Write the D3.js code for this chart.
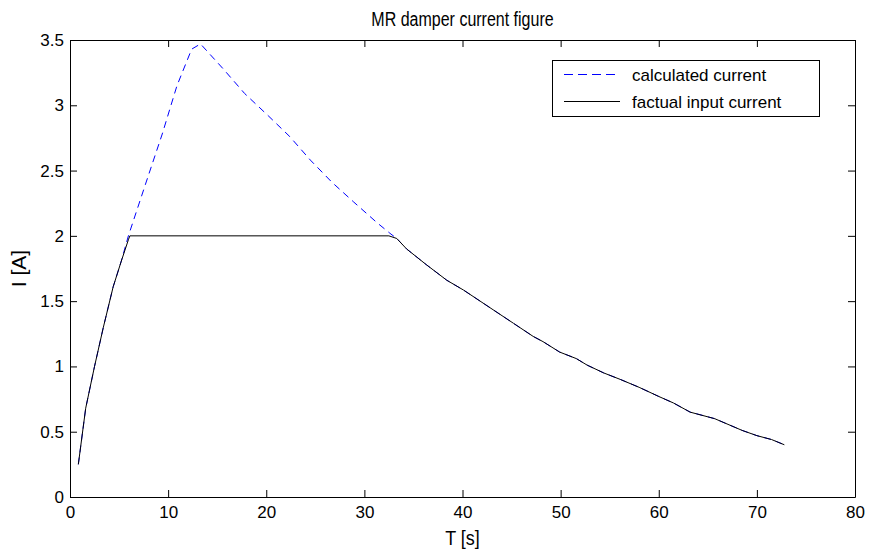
<!DOCTYPE html>
<html><head><meta charset="utf-8">
<script src="https://cdn.jsdelivr.net/npm/d3@7"></script>
<style>body{margin:0;background:#fff;}svg{display:block;font-family:"Liberation Sans",Arial,sans-serif;}</style>
</head><body>
<script>
const calcT = [0.85,1.6,2.5,3.4,4.4,5.2,5.95,7.8,9.4,10.9,12.4,13.3,15.6,17.8,20.2,22.4,24.5,26.7,28.9,31.3,32.6,33.3,34.3,36.3,38.4,40.1,43.2,45.2,47.2,48.2,49.9,51.6,52.7,54.4,56.1,58,60,61.5,63.2,65.7,68.5,70,71.5,72.8];
const calcI = [0.25,0.68,1.0,1.3,1.61,1.8,2.0,2.42,2.78,3.15,3.43,3.47,3.28,3.09,2.92,2.76,2.58,2.41,2.26,2.10,2.02,1.98,1.90,1.78,1.66,1.585,1.43,1.33,1.23,1.19,1.11,1.06,1.01,0.95,0.90,0.84,0.77,0.72,0.65,0.60,0.51,0.47,0.44,0.40];
const factT = [0.85,1.6,2.5,3.4,4.4,5.2,5.95,6.1,32.5,33.3,34.3,36.3,38.4,40.1,43.2,45.2,47.2,48.2,49.9,51.6,52.7,54.4,56.1,58,60,61.5,63.2,65.7,68.5,70,71.5,72.8];
const factI = [0.25,0.68,1.0,1.3,1.61,1.8,1.97,2.0,2.0,1.98,1.90,1.78,1.66,1.585,1.43,1.33,1.23,1.19,1.11,1.06,1.01,0.95,0.90,0.84,0.77,0.72,0.65,0.60,0.51,0.47,0.44,0.40];
const xTicks = [0,10,20,30,40,50,60,70,80];
const yTicks = [0,0.5,1,1.5,2,2.5,3,3.5];
const legendLabels = ["calculated current","factual input current"];

const W=869,H=553, L=70,R=855,T=40,B=497;
const svg=d3.select("body").append("svg").attr("width",W).attr("height",H);
const x=d3.scaleLinear().domain([0,80]).range([L,R]);
const y=d3.scaleLinear().domain([0,3.5]).range([B,T]);

const tl=7;
const gx=svg.append("g").attr("transform",`translate(0,${B})`)
  .call(d3.axisBottom(x).tickValues(xTicks).tickSizeInner(-tl).tickSizeOuter(0).tickPadding(9).tickFormat(d3.format("d")));
const gxt=svg.append("g").attr("transform",`translate(0,${T})`)
  .call(d3.axisTop(x).tickValues(xTicks).tickSizeInner(-tl).tickSizeOuter(0).tickFormat(""));
const gy=svg.append("g").attr("transform",`translate(${L},0)`)
  .call(d3.axisLeft(y).tickValues(yTicks).tickSizeInner(-tl).tickSizeOuter(0).tickPadding(6).tickFormat(d=>String(d)));
const gyr=svg.append("g").attr("transform",`translate(${R},0)`)
  .call(d3.axisRight(y).tickValues(yTicks).tickSizeInner(-tl).tickSizeOuter(0).tickFormat(""));
[gx,gxt,gy,gyr].forEach(g=>{
  g.selectAll("path.domain").attr("stroke","#000").attr("stroke-width",1);
  g.selectAll("line").attr("stroke","#000");
  g.selectAll("text").attr("fill","#000").style("font-size","17px").style("font-family","Liberation Sans, Arial, sans-serif");
});

const line=d3.line().x(d=>x(d[0])).y(d=>y(d[1]));
const calc=calcT.map((t,i)=>[t,calcI[i]]);
const fact=factT.map((t,i)=>[t,factI[i]]);
svg.append("path").datum(calc).attr("d",line).attr("fill","none").attr("stroke","#0000ff").attr("stroke-width",1).attr("stroke-dasharray","7,5");
svg.append("path").datum(fact).attr("d",line).attr("fill","none").attr("stroke","#000").attr("stroke-width",1);

svg.append("text").attr("transform",`translate(${(L+R)/2},26) scale(1,1.25)`).attr("text-anchor","middle").style("font-size","16px").text("MR damper current figure");
svg.append("text").attr("transform",`translate(${(L+R)/2},545) scale(1,1.15)`).attr("text-anchor","middle").style("font-size","18px").text("T [s]");
svg.append("text").attr("transform",`translate(26,${(T+B)/2}) rotate(-90)`).attr("text-anchor","middle").style("font-size","21px").text("I [A]");

// legend
const lg=svg.append("g");
lg.append("rect").attr("x",552.5).attr("y",60.5).attr("width",267).attr("height",56).attr("fill","#fff").attr("stroke","#000");
const rows=[74.5,101.5];
lg.append("line").attr("x1",564).attr("x2",620).attr("y1",rows[0]).attr("y2",rows[0]).attr("stroke","#0000ff").attr("stroke-dasharray","9,5");
lg.append("line").attr("x1",564).attr("x2",620).attr("y1",rows[1]).attr("y2",rows[1]).attr("stroke","#000");
legendLabels.forEach((s,i)=>lg.append("text").attr("x",632).attr("y",rows[i]+6.5).style("font-size","17px").text(s));
</script>
</body></html>
